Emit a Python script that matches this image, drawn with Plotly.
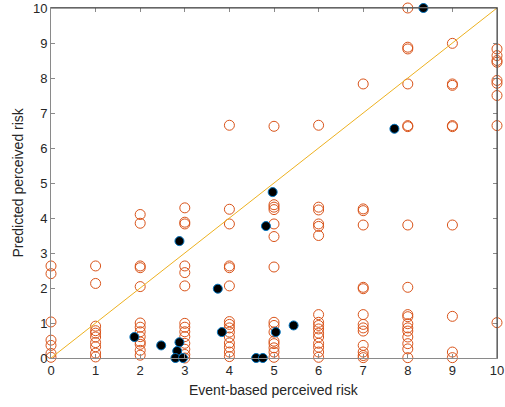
import plotly.graph_objects as go

# Orange open circles: predicted perceived risk at each integer event-based level
pred_0 = [2.63, 2.41, 1.03, 0.51, 0.36, 0.13, 0.02]
pred_1 = [2.63, 2.13, 0.91, 0.78, 0.71, 0.60, 0.44, 0.32, 0.14, 0.03]
pred_2 = [4.10, 3.85, 2.63, 2.58, 2.04, 1.00, 0.88, 0.75, 0.61, 0.46, 0.39, 0.22, 0.08]
pred_3 = [4.29, 3.88, 3.83, 2.63, 2.44, 2.06, 0.99, 0.88, 0.75, 0.61, 0.42, 0.25, 0.10, 0.00]
pred_4 = [6.65, 4.25, 3.83, 2.63, 2.58, 2.06, 1.04, 0.96, 0.86, 0.74, 0.60, 0.43, 0.31, 0.17, 0.04]
pred_5 = [6.62, 4.38, 4.31, 4.24, 3.83, 3.47, 2.60, 1.02, 0.93, 0.74, 0.48, 0.41, 0.29, 0.17, 0.02]
pred_6 = [6.65, 4.31, 4.23, 3.83, 3.76, 3.50, 1.24, 1.02, 0.93, 0.83, 0.71, 0.60, 0.42, 0.31, 0.17, 0.02]
pred_7 = [7.83, 4.26, 4.21, 3.80, 2.02, 1.98, 1.24, 0.96, 0.86, 0.77, 0.36, 0.17, 0.07, 0.01]
pred_8 = [10.0, 8.88, 8.83, 7.83, 6.64, 6.61, 3.80, 2.02, 1.24, 1.18, 0.98, 0.86, 0.77, 0.60, 0.41, 0.26, 0.01]
pred_9 = [8.99, 7.83, 7.79, 6.64, 6.61, 3.80, 1.19, 0.17, 0.01]
pred_10 = [8.83, 8.64, 8.50, 8.45, 7.93, 7.85, 7.50, 6.64, 1.01]
levels = [0, 1, 2, 3, 4, 5, 6, 7, 8, 9, 10]
pred_cols = [pred_0, pred_1, pred_2, pred_3, pred_4, pred_5, pred_6, pred_7, pred_8, pred_9, pred_10]

# Black filled points
black_x = [1.87, 2.47, 2.88, 2.88, 2.83, 2.79, 2.96, 4.97, 4.82, 3.74, 3.83, 4.60, 4.75, 5.04, 5.44, 8.35, 7.70]
black_y = [0.60, 0.36, 3.34, 0.45, 0.20, 0.00, 0.00, 4.74, 3.77, 1.98, 0.74, 0.00, 0.00, 0.74, 0.93, 10.0, 6.55]

# Identity line
line_x = [0, 10]
line_y = [0, 10]

tick_vals = list(range(0, 11))
x_title = "Event-based perceived risk"
y_title = "Predicted perceived risk"

orange_x = []
orange_y = []
for lv, col in zip(levels, pred_cols):
    orange_x += [lv] * len(col)
    orange_y += col

fig = go.Figure()
fig.add_trace(go.Scatter(
    x=orange_x, y=orange_y, mode="markers", cliponaxis=False,
    marker=dict(symbol="circle-open", size=10, color="#D95319", line=dict(width=1)),
    showlegend=False))
fig.add_trace(go.Scatter(
    x=black_x, y=black_y, mode="markers", cliponaxis=False,
    marker=dict(symbol="circle", size=9, color="black", line=dict(width=1, color="#0072BD")),
    showlegend=False))
fig.add_trace(go.Scatter(
    x=line_x, y=line_y, mode="lines", cliponaxis=False,
    line=dict(color="#EDB120", width=1), showlegend=False))

axis_common = dict(
    range=[0, 10], tickvals=tick_vals, ticks="inside", ticklen=4, tickwidth=1,
    tickcolor="#8a8a8a", showline=True, linecolor="#8a8a8a", linewidth=1,
    mirror="ticks", showgrid=False, zeroline=False, automargin=False,
    tickfont=dict(family="Liberation Sans, Arial", size=13, color="#262626"),
)
title_font = dict(family="Liberation Sans, Arial", size=14, color="#262626")

fig.update_layout(
    width=505, height=407,
    margin=dict(l=51, r=8, t=8, b=49),
    paper_bgcolor="white", plot_bgcolor="white",
    xaxis=axis_common,
    yaxis=axis_common,
    annotations=[
        dict(text=x_title, xref="x domain", yref="paper", x=0.5, y=-0.09,
             yshift=0, xanchor="center", yanchor="middle", showarrow=False, font=title_font),
        dict(text=y_title, xref="paper", yref="y domain", x=-0.075, y=0.5,
             textangle=-90, xanchor="center", yanchor="middle", showarrow=False, font=title_font),
    ],
    shapes=[
        dict(type="line", xref="x domain", yref="y domain", x0=0, x1=1, y0=1, y1=1,
             line=dict(color="#404040", width=1)),
        dict(type="line", xref="x domain", yref="y domain", x0=1, x1=1, y0=0, y1=1,
             line=dict(color="#404040", width=1)),
    ],
)

fig.write_html("out.html")
